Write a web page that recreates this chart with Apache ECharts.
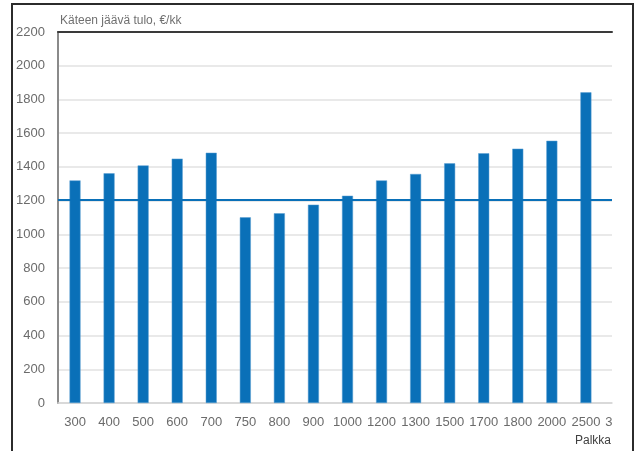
<!DOCTYPE html>
<html>
<head>
<meta charset="utf-8">
<script src="https://cdn.jsdelivr.net/npm/echarts@6/dist/echarts.min.js"></script>
<style>
  html, body { margin: 0; padding: 0; background: #fff; }
  #chart { width: 637px; height: 451px; }
</style>
</head>
<body>
<div id="chart"></div>
<script>
// Salary levels (€/kk) and the resulting take-home income
var categories = ['300', '400', '500', '600', '700', '750', '800', '900', '1000',
                  '1200', '1300', '1500', '1700', '1800', '2000', '2500', '3'];
var netIncome = [1320, 1362, 1409, 1449, 1484, 1101, 1125, 1176, 1229,
                 1320, 1358, 1421, 1481, 1508, 1555, 1842];
var referenceLevel = 1205;
var yTicks = { min: 0, max: 2200, interval: 200 };

var titleText = 'Käteen jäävä tulo, €/kk';
var axisNameText = 'Palkka';

var blue = '#0a70b8';
var textColor = '#6b6b6b';
var fontFamily = '"Liberation Sans", Arial, sans-serif';
var lastIndex = categories.length - 1;

var chart = echarts.init(document.getElementById('chart'), null, { renderer: 'canvas' });

chart.setOption({
  backgroundColor: '#ffffff',
  animation: false,
  textStyle: { fontFamily: fontFamily },
  title: [
    {
      text: titleText,
      left: 60, top: 15, padding: 0,
      textStyle: { fontSize: 12, fontWeight: 'normal', color: '#707070', fontFamily: fontFamily }
    },
    {
      text: axisNameText,
      right: 26, top: 435, padding: 0,
      textStyle: { fontSize: 12, fontWeight: 'normal', color: '#404040', fontFamily: fontFamily }
    }
  ],
  graphic: [
    {
      type: 'rect',
      shape: { x: 12, y: 4, width: 621, height: 470 },
      style: { fill: 'none', stroke: '#2b2b2b', lineWidth: 2 },
      z: 100
    }
  ],
  grid: [
    // band grid for the bars (last band runs off the plot)
    { left: 58, top: 32, width: 579, height: 371 },
    // visible plot frame with value scale
    { left: 58, top: 32, width: 554, height: 371 }
  ],
  xAxis: [
    {
      type: 'category',
      gridIndex: 0,
      data: categories,
      axisLine: { show: false },
      axisTick: { show: false },
      axisLabel: {
        margin: 13,
        fontSize: 13,
        color: textColor,
        fontFamily: fontFamily,
        interval: 0,
        formatter: function (v, i) {
          return i === lastIndex ? '{cut|' + v + '}' : v;
        },
        rich: {
          cut: { fontSize: 13, color: textColor, fontFamily: fontFamily, padding: [0, 22, 0, 0] }
        }
      }
    },
    {
      type: 'value',
      gridIndex: 1,
      min: 0, max: 1,
      position: 'bottom',
      axisLine: { show: true, lineStyle: { color: '#d4d4d4', width: 1.5 } },
      axisTick: { show: false },
      axisLabel: { show: false },
      splitLine: { show: false }
    },
    {
      type: 'value',
      gridIndex: 1,
      min: 0, max: 1,
      position: 'top',
      axisLine: { show: true, lineStyle: { color: '#3a3a3a', width: 2 } },
      axisTick: { show: false },
      axisLabel: { show: false },
      splitLine: { show: false }
    }
  ],
  yAxis: [
    {
      type: 'value',
      gridIndex: 0,
      min: yTicks.min, max: yTicks.max, interval: yTicks.interval,
      show: false
    },
    {
      type: 'value',
      gridIndex: 1,
      min: yTicks.min, max: yTicks.max, interval: yTicks.interval,
      axisLine: { show: true, lineStyle: { color: '#8a8a8a', width: 2 } },
      axisTick: { show: false },
      axisLabel: {
        margin: 13, fontSize: 13, color: textColor, fontFamily: fontFamily,
        formatter: function (v) { return String(v); }
      },
      splitLine: { show: true, lineStyle: { color: '#e2e2e2', width: 1.5 } }
    }
  ],
  series: [
    {
      type: 'bar',
      xAxisIndex: 0,
      yAxisIndex: 0,
      data: netIncome,
      barWidth: 11,
      itemStyle: { color: blue, borderColor: '#5b9fd2', borderWidth: 0.5 },
      z: 3
    },
    {
      type: 'line',
      xAxisIndex: 1,
      yAxisIndex: 1,
      data: [],
      symbol: 'none',
      markLine: {
        silent: true,
        symbol: ['none', 'none'],
        label: { show: false },
        lineStyle: { color: blue, width: 2, type: 'solid' },
        data: [{ yAxis: referenceLevel }]
      },
      z: 4
    }
  ]
});
</script>
</body>
</html>
